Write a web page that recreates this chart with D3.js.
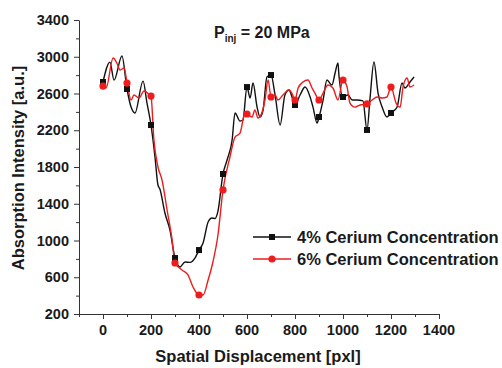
<!DOCTYPE html>
<html><head><meta charset="utf-8">
<script src="https://cdn.jsdelivr.net/npm/d3@7"></script>
<style>body{margin:0;background:#fff}svg{display:block}text{font-family:"Liberation Sans",Arial,sans-serif;font-weight:bold;fill:#1a1a1a}</style>
</head><body><svg id="c" width="502" height="368"></svg>
<script>
const xTicks = [0,200,400,600,800,1000,1200,1400];
const yTicks = [200,600,1000,1400,1800,2200,2600,3000,3400];
const seriesNames = ["4% Cerium Concentration","6% Cerium Concentration"];
const blackX = [0,29,46,79,100,117,133,167,183,200,217,229,237,258,279,300,321,342,363,383,400,417,438,454,467,479,500,517,538,550,571,583,600,613,625,642,654,667,683,700,717,738,758,775,788,800,821,842,863,875,892,900,917,933,954,967,979,983,1000,1021,1038,1058,1083,1100,1113,1129,1146,1163,1183,1200,1225,1246,1258,1279,1296];
const blackY = [2725,2942,2746,3008,2649,2452,2388,2735,2500,2257,1900,1604,1560,1299,1114,809,712,766,762,809,896,973,1201,1245,1240,1320,1724,1876,2094,2388,2300,2311,2670,2551,2714,2452,2344,2420,2780,2801,2584,2257,2584,2638,2560,2475,2584,2670,2562,2452,2279,2344,2529,2747,2692,2823,2932,2800,2562,2584,2529,2529,2520,2203,2560,2943,2605,2452,2344,2388,2450,2714,2660,2725,2780];
const redX = [0,13,42,58,71,88,100,117,129,150,171,192,200,212,229,246,267,288,300,329,354,375,400,417,438,458,479,500,529,550,571,592,600,621,633,646,663,675,688,700,717,729,750,775,788,800,813,833,854,871,883,900,917,938,958,979,1000,1017,1029,1050,1071,1100,1121,1142,1163,1183,1200,1221,1238,1250,1267,1279,1296];
const redY = [2681,2660,2986,2930,2855,2877,2714,2530,2584,2550,2627,2590,2572,2100,1800,1658,1332,1005,755,679,625,494,407,407,570,766,1060,1550,1909,2126,2170,2388,2377,2344,2420,2333,2398,2530,2747,2562,2584,2529,2584,2638,2600,2529,2660,2725,2747,2660,2605,2529,2605,2692,2660,2529,2747,2670,2496,2452,2475,2486,2529,2562,2551,2562,2670,2496,2450,2670,2769,2670,2692];

const svg = d3.select("#c");
const x = d3.scaleLinear().domain([-100,1400]).range([79,439]);
const y = d3.scaleLinear().domain([200,3400]).range([314,20]);

// axes
const gx = svg.append("g").attr("transform","translate(0,314)");
gx.call(d3.axisBottom(x).tickValues(d3.range(-100,1401,100)).tickFormat("").tickSize(3).tickSizeOuter(0));
gx.call(g=>g.selectAll(".tick").filter(d=>xTicks.includes(d)).select("line").attr("y2",5));
svg.selectAll(".xlab").data(xTicks).enter().append("text").attr("x",d=>x(d)).attr("y",335).attr("text-anchor","middle").style("font-size","14.5px").text(d=>d);
const gy = svg.append("g").attr("transform","translate(79,0)");
gy.call(d3.axisLeft(y).tickValues(d3.range(200,3401,200)).tickFormat("").tickSize(3).tickSizeOuter(0));
gy.call(g=>g.selectAll(".tick").filter(d=>yTicks.includes(d)).select("line").attr("x2",-5));
svg.selectAll(".ylab").data(yTicks).enter().append("text").attr("x",69).attr("y",d=>y(d)+5).attr("text-anchor","end").style("font-size","14.5px").text(d=>d);
svg.selectAll(".domain").attr("stroke","#333").attr("stroke-width",1);
svg.selectAll(".tick line").attr("stroke","#333");

// titles
svg.append("text").attr("x",258).attr("y",362).attr("text-anchor","middle").style("font-size","16.5px").text("Spatial Displacement [pxl]");
svg.append("text").attr("transform","translate(24,168) rotate(-90)").attr("text-anchor","middle").style("font-size","16.5px").text("Absorption Intensity [a.u.]");
const pt = svg.append("text").attr("x",214).attr("y",38).style("font-size","16px");
pt.append("tspan").text("P");
pt.append("tspan").attr("dy",4).style("font-size","10px").text("inj");
pt.append("tspan").attr("dy",-4).text(" = 20 MPa");

// series
const line = d3.line().x(d=>x(d[0])).y(d=>y(d[1])).curve(d3.curveMonotoneX);
const black = blackX.map((v,i)=>[v,blackY[i]]);
const red = redX.map((v,i)=>[v,redY[i]]);
svg.append("path").datum(black).attr("d",line).attr("fill","none").attr("stroke","#111").attr("stroke-width",1.4);
svg.append("path").datum(red).attr("d",line).attr("fill","none").attr("stroke","#ee1c1c").attr("stroke-width",1.4);
svg.selectAll(".sq").data(black.filter(d=>d[0]%100===0)).enter().append("rect")
  .attr("x",d=>x(d[0])-3).attr("y",d=>y(d[1])-3).attr("width",6).attr("height",6).attr("fill","#111");
svg.selectAll(".ci").data(red.filter(d=>d[0]%100===0)).enter().append("circle")
  .attr("cx",d=>x(d[0])).attr("cy",d=>y(d[1])).attr("r",3.6).attr("fill","#ee1c1c");

// legend
const lg = svg.append("g");
[0,1].forEach(i=>{
  const yy = 237 + i*22;
  const col = i===0?"#111":"#ee1c1c";
  lg.append("line").attr("x1",253).attr("x2",291).attr("y1",yy).attr("y2",yy).attr("stroke",col).attr("stroke-width",1.4);
  if(i===0) lg.append("rect").attr("x",269).attr("y",yy-3).attr("width",6).attr("height",6).attr("fill",col);
  else lg.append("circle").attr("cx",272).attr("cy",yy).attr("r",3.6).attr("fill",col);
  lg.append("text").attr("x",297).attr("y",yy+6).style("font-size",'16.5px').text(seriesNames[i]);
});
</script></body></html>
